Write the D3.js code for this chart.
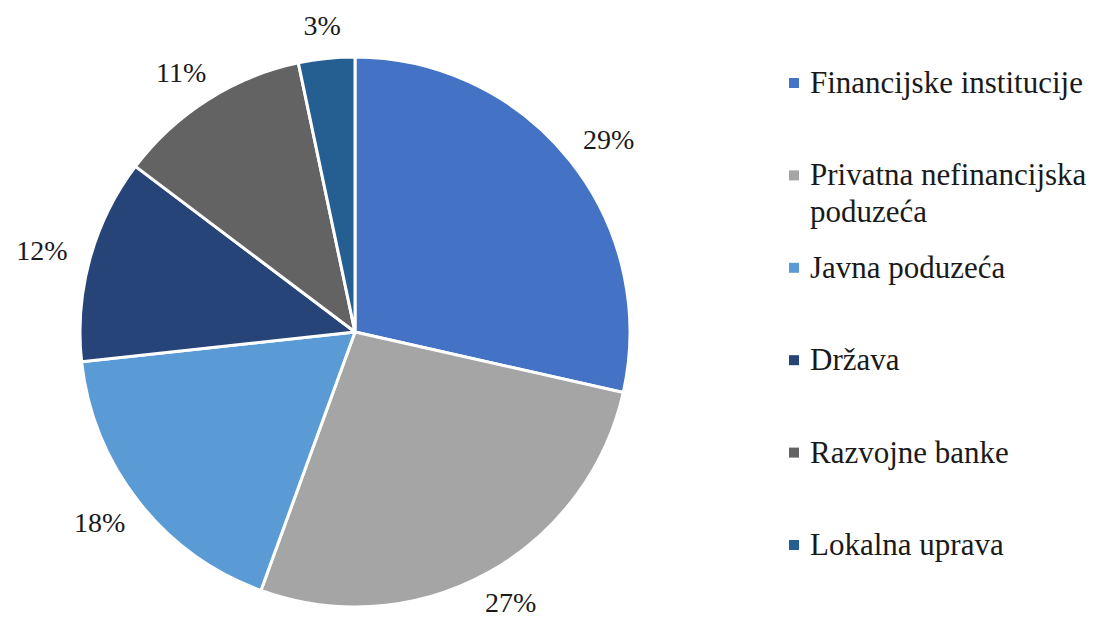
<!DOCTYPE html>
<html>
<head>
<meta charset="utf-8">
<script src="https://cdn.jsdelivr.net/npm/d3@7"></script>
<style>
  body { margin: 0; background: #fff; }
</style>
</head>
<body>
<div id="chart"></div>
<script>
// sector shares (%)
var categories = ["Financijske institucije", "Privatna nefinancijska poduzeća", "Javna poduzeća",
                  "Država", "Razvojne banke", "Lokalna uprava"];
var shares = [28.5, 27.0, 17.7, 12.0, 11.4, 3.3];
var pctLabels = ["29%", "27%", "18%", "12%", "11%", "3%"];
// legend lines (long names wrap)
var legendLines = [["Financijske institucije"], ["Privatna nefinancijska", "poduzeća"], ["Javna poduzeća"],
                   ["Država"], ["Razvojne banke"], ["Lokalna uprava"]];
var colors = ["#4472C4", "#A5A5A5", "#5B9BD5", "#264478", "#636363", "#255E91"];

var width = 1110, height = 617;
var cx = 355, cy = 332, radius = 275;
var font = "'Liberation Serif', 'Times New Roman', 'DejaVu Serif', serif";

var svg = d3.select("#chart").append("svg")
    .attr("width", width)
    .attr("height", height);

var data = categories.map(function (c, i) {
    return { name: c, value: shares[i], label: pctLabels[i], color: colors[i] };
});

var pie = d3.pie()
    .sort(null)
    .value(function (d) { return d.value; });

var arc = d3.arc()
    .innerRadius(0)
    .outerRadius(radius);

var g = svg.append("g")
    .attr("transform", "translate(" + cx + "," + cy + ")");

var arcs = pie(data);

g.selectAll("path")
    .data(arcs)
    .enter()
    .append("path")
    .attr("d", arc)
    .style("fill", function (d) { return d.data.color; })
    .style("stroke", "white")
    .style("stroke-width", 3)
    .style("stroke-linejoin", "round");

// outside-end labels: box touches a circle slightly outside the pie
var labelR = 299;
g.selectAll("text.pct")
    .data(arcs)
    .enter()
    .append("text")
    .attr("class", "pct")
    .attr("text-anchor", "middle")
    .attr("dy", "0.35em")
    .style("font-family", font)
    .style("font-size", "28px")
    .style("fill", "#1a1a1a")
    .text(function (d) { return d.data.label; })
    .each(function (d) {
        var a = (d.startAngle + d.endAngle) / 2;
        var ux = Math.sin(a), uy = -Math.cos(a);
        var w = this.getComputedTextLength(), h = 18;
        d3.select(this)
            .attr("x", labelR * ux + w / 2 * ux)
            .attr("y", labelR * uy + h / 2 * uy);
    });

// legend
var legendX = 789, legendY0 = 93, legendStep = 92.4;
var legend = svg.append("g").attr("class", "legend");

var items = legend.selectAll("g")
    .data(data)
    .enter()
    .append("g")
    .attr("transform", function (d, i) {
        return "translate(" + legendX + "," + (legendY0 + i * legendStep) + ")";
    });

items.append("rect")
    .attr("x", 0)
    .attr("y", -15)
    .attr("width", 10)
    .attr("height", 10)
    .style("fill", function (d) { return d.color; });

items.append("text")
    .attr("x", 21)
    .attr("y", 0)
    .style("font-family", font)
    .style("font-size", "31px")
    .style("fill", "#1a1a1a")
    .each(function (d, i) {
        var t = d3.select(this);
        legendLines[i].forEach(function (line, j) {
            t.append("tspan")
                .attr("x", 21)
                .attr("dy", j === 0 ? 0 : 37)
                .text(line);
        });
    });
</script>
</body>
</html>
